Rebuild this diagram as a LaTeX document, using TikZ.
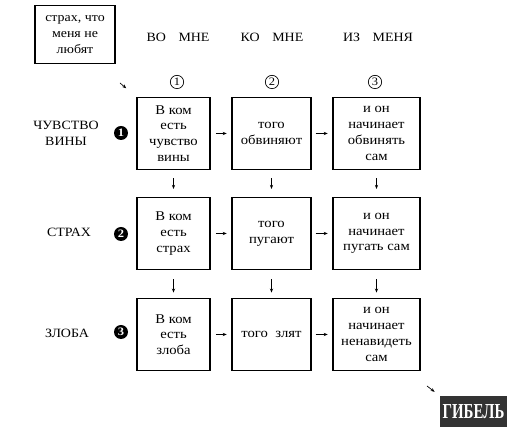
\documentclass[tikz,border=0pt]{standalone}
\usepackage{fontspec}
\setmainfont[FakeStretch=1.1]{Liberation Serif}
\newfontfamily\ruinfont[FakeStretch=0.7]{Liberation Serif}
\usetikzlibrary{arrows.meta}

\tikzset{
    cell/.style={draw,line width=0.9pt,minimum height=54pt,inner sep=1pt,align=center,font=\fontsize{10}{11.8}\selectfont},
    arr/.style={-{Stealth[length=3pt,width=2.4pt]},line width=0.5pt},
    hnum/.style={draw,circle,line width=0.5pt,inner sep=0,minimum size=10pt,font=\fontsize{8.5}{8.5}\selectfont},
    rnum/.style={fill=black,circle,inner sep=0,minimum size=10.5pt,text=white,font=\fontsize{8.5}{8.5}\selectfont\bfseries},
    lab/.style={align=center,font=\fontsize{9.5}{12}\selectfont}
}

\begin{document}
\begin{tikzpicture}[x=0.75pt,y=-0.75pt]
        \useasboundingbox (0,0) rectangle (526,441);

        \foreach \j/\x in {1/173.5, 2/271.5, 3/376.5} {
            \foreach \i/\y in {1/133.5, 2/233.5, 3/334.5} {
                \coordinate (p\i\j) at (\x,\y);
            }
        }

        \coordinate (fromfear) at (120,83);
        \coordinate (toruin) at (427,386);

        % Headers
        \node[draw,line width=0.9pt,minimum width=60pt,minimum height=43pt,inner sep=1pt,lab] (fear) at (75,34.5) {страх, что\\меня не\\любят};

        \node[lab] (h1) at (178,37) {ВО\quad МНЕ};
        \node[lab] (h2) at (272,37) {КО\quad МНЕ};
        \node[lab] (h3) at (378,37) {ИЗ\quad МЕНЯ};

        \node[hnum] (n1) at (177,82) {1};
        \node[hnum] (n2) at (272,82) {2};
        \node[hnum] (n3) at (375,82) {3};

        \node[lab] (r1) at (66,133) {ЧУВСТВО\\ВИНЫ};
        \node[lab] (r2) at (69,232) {СТРАХ};
        \node[lab] (r3) at (67,333) {ЗЛОБА};

        \node[rnum] (m1) at (121,133) {1};
        \node[rnum] (m2) at (121,234) {2};
        \node[rnum] (m3) at (121,332) {3};

        % Boxes
        \node[cell,minimum width=54.75pt] (b11) at (p11) {В ком\\есть\\чувство\\вины};
        \node[cell,minimum width=59.25pt] (b12) at (p12) {того\\обвиняют};
        \node[cell,minimum width=65.25pt] (b13) at (p13) {и он\\начинает\\обвинять\\сам};

        \node[cell,minimum width=54.75pt] (b21) at (p21) {В ком\\есть\\страх};
        \node[cell,minimum width=59.25pt] (b22) at (p22) {того\\пугают};
        \node[cell,minimum width=65.25pt] (b23) at (p23) {и он\\начинает\\пугать сам};

        \node[cell,minimum width=54.75pt] (b31) at (p31) {В ком\\есть\\злоба};
        \node[cell,minimum width=59.25pt] (b32) at (p32) {того\ \ злят};
        \node[cell,minimum width=65.25pt] (b33) at (p33) {и он\\начинает\\ненавидеть\\сам};

        \node[fill=black!80,minimum width=50pt,minimum height=23pt,inner sep=1pt,text=white,font=\ruinfont\fontsize{16}{16}\selectfont\bfseries] (ruin) at (473.5,411.5) {ГИБЕЛЬ};

        % Edges
        \foreach \i in {1,2,3} {
            \draw[arr,shorten <=4pt,shorten >=3.5pt] (b\i1) -- (b\i2);
            \draw[arr,shorten <=3pt,shorten >=3.5pt] (b\i2) -- (b\i3);
        }

        \foreach \j in {1,2,3} {
            \draw[arr,shorten <=6pt,shorten >=6pt] (b1\j) -- (b2\j);
            \draw[arr,shorten <=7pt,shorten >=4pt] (b2\j) -- (b3\j);
        }

        \draw[arr,shorten >=10pt] (fromfear) -- (b11.north west);
        \draw[arr,shorten >=5pt] (toruin) -- (ruin.north west);
    \end{tikzpicture}
\end{document}
